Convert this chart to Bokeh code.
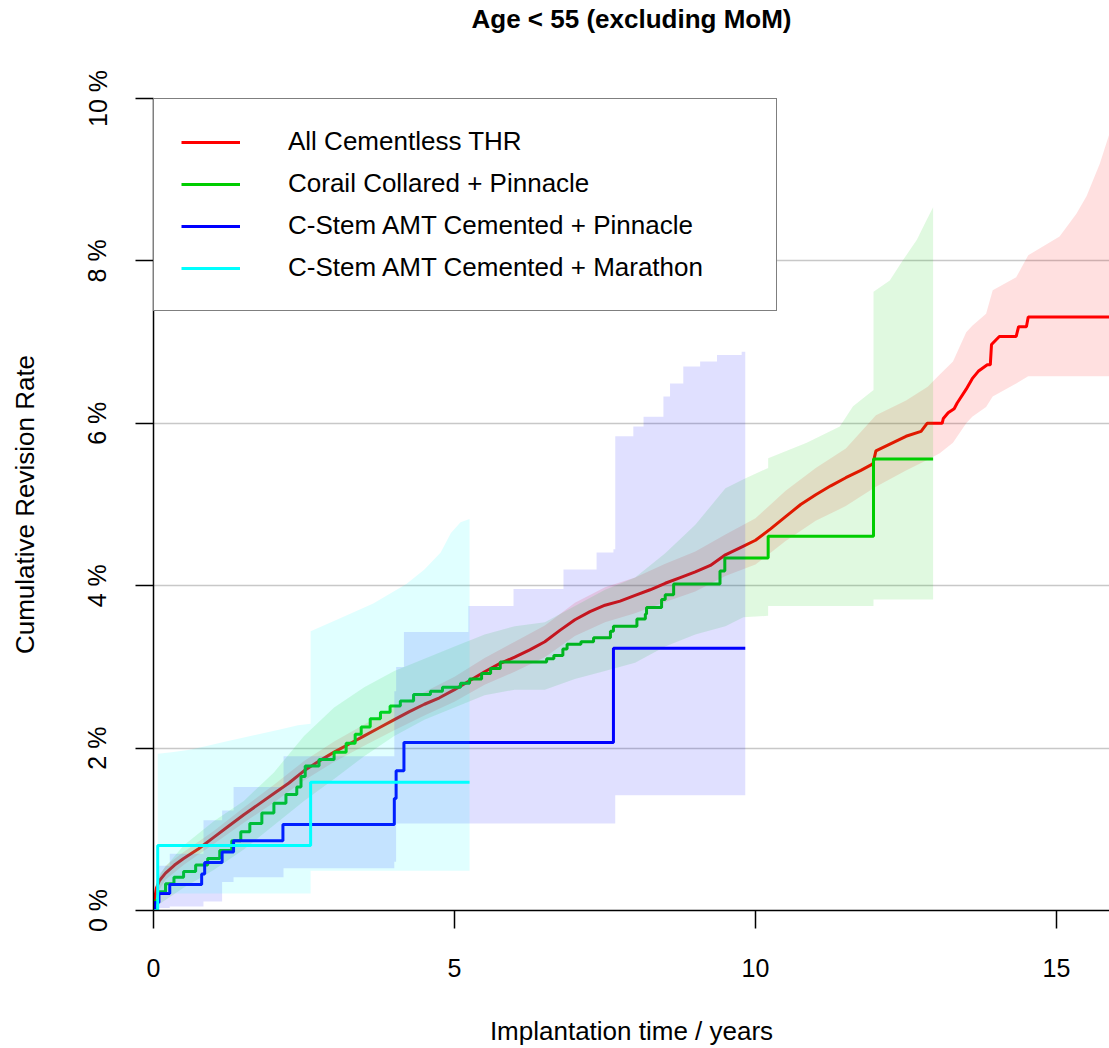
from bokeh.plotting import figure
from bokeh.models import Range1d, FixedTicker, Legend, LegendItem, Title
from bokeh.embed import file_html
from bokeh.resources import INLINE

title_text = "Age < 55 (excluding MoM)"
x_label = "Implantation time / years"
y_label = "Cumulative Revision Rate"
x_ticks = [0, 5, 10, 15]
y_ticks = [0, 2, 4, 6, 8, 10]
y_tick_labels = ["0 %", "2 %", "4 %", "6 %", "8 %", "10 %"]
series_names = ["All Cementless THR", "Corail Collared + Pinnacle",
                "C-Stem AMT Cemented + Pinnacle", "C-Stem AMT Cemented + Marathon"]
series_colors = ["#FF0000", "#00CD00", "#0000FF", "#00FFFF"]

# All Cementless THR (cumulative revision %, polyline vertices; steps in the tail)
red_t = [0, 0.02, 0.05, 0.1, 0.2, 0.35, 0.5, 0.75, 1.0, 1.25, 1.5, 1.75, 2.0, 2.25, 2.5, 2.75,
         3.0, 3.25, 3.5, 3.75, 4.0, 4.25, 4.5, 4.75, 5.0, 5.25, 5.5, 5.75, 6.0, 6.25, 6.5, 6.75,
         7.0, 7.25, 7.5, 7.75, 8.0, 8.25, 8.5, 8.75, 9.0, 9.25, 9.5, 9.75, 10.0, 10.25, 10.5,
         10.75, 11.0, 11.25, 11.5, 11.75, 11.95, 12.0, 12.25, 12.5, 12.75, 12.85, 13.1, 13.12,
         13.2, 13.3, 13.35, 13.5, 13.6, 13.7, 13.85, 13.9, 13.92, 14.05, 14.33, 14.37, 14.5,
         14.53, 15.88]
red_v = [0, 0.15, 0.28, 0.37, 0.46, 0.56, 0.64, 0.76, 0.9, 1.04, 1.18, 1.31, 1.44, 1.57, 1.72, 1.84,
         1.95, 2.05, 2.15, 2.25, 2.35, 2.45, 2.54, 2.62, 2.72, 2.83, 2.94, 3.04, 3.12, 3.21, 3.31, 3.45,
         3.58, 3.68, 3.76, 3.81, 3.88, 3.95, 4.03, 4.10, 4.17, 4.25, 4.38, 4.47, 4.56, 4.70, 4.85,
         5.00, 5.12, 5.23, 5.33, 5.42, 5.50, 5.66, 5.75, 5.84, 5.90, 6.00, 6.00, 6.06,
         6.13, 6.18, 6.25, 6.42, 6.55, 6.64, 6.72, 6.72, 6.97, 7.07, 7.07, 7.19, 7.19,
         7.31, 7.31]
red_band_t = [0, 0.05, 0.2, 0.5, 1.0, 1.5, 2.0, 2.5, 3.0, 3.5, 4.0, 4.5, 5.0, 5.5, 6.0, 6.5, 7.0,
              7.5, 8.0, 8.5, 9.0, 9.5, 10.0, 10.5, 11.0, 11.5, 12.0, 12.5, 12.86, 13.06, 13.28,
              13.5, 13.6, 13.83, 13.94, 14.33, 14.53, 15.05, 15.33, 15.5, 15.72, 15.88]
red_lo = [0, 0.2, 0.38, 0.56, 0.82, 1.08, 1.33, 1.6, 1.83, 2.03, 2.22, 2.4, 2.57, 2.78, 2.94, 3.12,
          3.38, 3.55, 3.66, 3.8, 3.93, 4.12, 4.26, 4.55, 4.8, 4.98, 5.22, 5.42, 5.55, 5.63, 5.76,
          6.0, 6.08, 6.2, 6.33, 6.49, 6.58, 6.58, 6.58, 6.58, 6.58, 6.58]
red_hi = [0, 0.36, 0.55, 0.72, 0.98, 1.27, 1.55, 1.84, 2.08, 2.29, 2.5, 2.69, 2.88, 3.11, 3.31, 3.51,
          3.79, 3.98, 4.1, 4.27, 4.42, 4.63, 4.83, 5.17, 5.45, 5.69, 6.1, 6.28, 6.45, 6.6, 6.76,
          7.12, 7.2, 7.35, 7.64, 7.8, 8.07, 8.3, 8.58, 8.8, 9.2, 9.57]

# Corail Collared + Pinnacle (step after)
green_t = [0, 0.03, 0.08, 0.2, 0.34, 0.5, 0.7, 0.9, 1.1, 1.3, 1.45, 1.6, 1.8, 2.0, 2.2, 2.38, 2.45,
           2.52, 2.75, 3.0, 3.2, 3.35, 3.45, 3.6, 3.77, 3.93, 4.1, 4.32, 4.6, 4.8, 5.1, 5.25, 5.45,
           5.6, 5.76, 6.53, 6.65, 6.8, 6.87, 7.1, 7.31, 7.59, 7.64, 8.03, 8.17, 8.19, 8.44, 8.5,
           8.64, 9.41, 9.49, 10.21, 11.96, 12.95]
green_v = [0, 0.12, 0.23, 0.33, 0.41, 0.48, 0.56, 0.64, 0.74, 0.86, 0.97, 1.07, 1.2, 1.32, 1.43, 1.52,
           1.65, 1.78, 1.86, 1.95, 2.06, 2.17, 2.26, 2.36, 2.44, 2.52, 2.58, 2.66, 2.7, 2.75, 2.8, 2.85,
           2.92, 2.98, 3.06, 3.1, 3.14, 3.22, 3.28, 3.31, 3.36, 3.44, 3.5, 3.59, 3.65, 3.73, 3.83,
           3.89, 4.02, 4.18, 4.34, 4.61, 5.56, 5.56]
# band vertices (repeated times mark vertical jumps)
green_band_t = [0, 0.1, 0.5, 1.0, 1.5, 2.0, 2.5, 3.0, 3.5, 4.0, 4.5, 5.0, 5.5, 6.0, 6.5, 7.0, 7.5,
                8.0, 8.5, 9.0, 9.5, 9.8, 10.21, 10.21, 10.85, 11.4, 11.62, 11.96, 11.96, 12.23,
                12.45, 12.68, 12.84, 12.95]
green_lo = [0, 0.08, 0.28, 0.5, 0.75, 1.05, 1.35, 1.62, 1.9, 2.15, 2.35, 2.5, 2.65, 2.72, 2.72, 2.85,
            2.95, 3.05, 3.25, 3.4, 3.5, 3.61, 3.63, 3.75, 3.75, 3.75, 3.75, 3.75, 3.83, 3.83, 3.83,
            3.83, 3.83, 3.83]
green_hi = [0, 0.45, 0.8, 1.1, 1.35, 1.7, 2.15, 2.5, 2.75, 2.95, 3.1, 3.25, 3.4, 3.5, 3.55, 3.75,
            3.95, 4.1, 4.4, 4.75, 5.2, 5.31, 5.45, 5.57, 5.76, 5.96, 6.21, 6.41, 7.62, 7.76, 8.01,
            8.26, 8.5, 8.66]

# C-Stem AMT Cemented + Pinnacle (step after)
blue_t = [0, 0.02, 0.09, 0.27, 0.80, 0.85, 1.14, 1.33, 2.15, 4.0, 4.03, 4.16, 7.64, 9.83]
blue_v = [0, 0.1, 0.21, 0.32, 0.45, 0.59, 0.72, 0.86, 1.06, 1.38, 1.72, 2.07, 3.23, 3.23]
blue_band_t = [0, 0.09, 0.27, 0.83, 1.14, 1.33, 2.16, 4.0, 4.03, 4.16, 5.23, 5.98, 6.81, 7.36,
               7.64, 7.67, 7.97, 8.14, 8.47, 8.58, 8.8, 9.08, 9.36, 9.77, 9.83]
blue_lo = [0, 0.03, 0.05, 0.11, 0.35, 0.41, 0.52, 0.6, 1.07, 1.07, 1.07, 1.07, 1.07, 1.07,
           1.07, 1.42, 1.42, 1.42, 1.42, 1.42, 1.42, 1.42, 1.42, 1.42, 1.42]
blue_hi = [0, 0.55, 0.7, 1.11, 1.23, 1.52, 1.9, 2.7, 3.0, 3.43, 3.75, 3.96, 4.2, 4.41,
           4.45, 5.84, 5.96, 6.08, 6.33, 6.49, 6.7, 6.76, 6.84, 6.88, 6.88]

# C-Stem AMT Cemented + Marathon (step after)
cyan_t = [0, 0.07, 2.61, 5.25]
cyan_v = [0, 0.8, 1.58, 1.58]
cyan_band_t = [0, 0.07, 0.07, 0.3, 0.6, 0.9, 1.2, 1.5, 1.8, 2.1, 2.4, 2.61, 2.61, 3.1, 3.65, 4.2,
               4.5, 4.77, 4.94, 5.1, 5.25]
cyan_lo = [0, 0, 0.21, 0.21, 0.21, 0.21, 0.21, 0.21, 0.21, 0.21, 0.21, 0.21, 0.49, 0.49, 0.49, 0.49,
           0.49, 0.49, 0.49, 0.49, 0.49]
cyan_hi = [0, 0, 1.93, 1.95, 1.98, 2.03, 2.08, 2.13, 2.18, 2.23, 2.28, 2.3, 3.44, 3.6, 3.78, 4.02,
           4.2, 4.41, 4.65, 4.78, 4.82]

FONT = "Liberation Sans"

p = figure(width=1109, height=1048, output_backend="svg", toolbar_location=None,
           x_range=Range1d(0, 15.88), y_range=Range1d(0, 10),
           min_border_left=153, min_border_right=0, min_border_top=98, min_border_bottom=136)
p.outline_line_color = None
p.background_fill_color = "white"

p.title.text = title_text
p.title.align = "center"
p.title.text_font = FONT
p.title.text_font_size = "26px"
p.title.text_font_style = "bold"
p.title.text_color = "black"
p.title.standoff = 0
# empty spacer panel between the frame and the title
p.add_layout(Title(text=" ", text_font_size="1px", standoff=62), "above")

p.xgrid.visible = False
p.ygrid.ticker = FixedTicker(ticks=[2, 4, 6, 8, 10])
p.ygrid.grid_line_color = "#c8c8c8"
p.ygrid.grid_line_width = 1.5

for ax in (p.xaxis[0], p.yaxis[0]):
    ax.axis_line_color = "black"
    ax.axis_line_width = 1.5
    ax.major_tick_line_color = "black"
    ax.major_tick_line_width = 1.5
    ax.major_tick_out = 18
    ax.major_tick_in = 0
    ax.minor_tick_line_color = None
    ax.major_label_text_font = FONT
    ax.major_label_text_font_size = "25px"
    ax.major_label_text_color = "black"
    ax.axis_label_text_font = FONT
    ax.axis_label_text_font_size = "26px"
    ax.axis_label_text_font_style = "normal"
    ax.axis_label_text_color = "black"

p.xaxis.ticker = FixedTicker(ticks=x_ticks)
p.xaxis.axis_label = x_label
p.xaxis.major_label_standoff = 30
p.xaxis.axis_label_standoff = 36

p.yaxis.ticker = FixedTicker(ticks=y_ticks)
p.yaxis.major_label_overrides = {t: s for t, s in zip(y_ticks, y_tick_labels)}
p.yaxis.major_label_orientation = "vertical"
p.yaxis.axis_label = y_label
p.yaxis.major_label_standoff = 24
p.yaxis.axis_label_standoff = 41

ALPHA = 0.12
# All Cementless THR
r_red = p.line(red_t, red_v, line_color=series_colors[0], line_width=3)
p.varea(x=red_band_t, y1=red_lo, y2=red_hi, fill_color=series_colors[0], fill_alpha=ALPHA)
# Corail Collared + Pinnacle
r_green = p.step(green_t, green_v, mode="after", line_color=series_colors[1], line_width=3)
p.varea(x=green_band_t, y1=green_lo, y2=green_hi, fill_color=series_colors[1], fill_alpha=ALPHA)
# C-Stem + Pinnacle
r_blue = p.step(blue_t, blue_v, mode="after", line_color=series_colors[2], line_width=3)
p.varea_step(x=blue_band_t, y1=blue_lo, y2=blue_hi, step_mode="after",
             fill_color=series_colors[2], fill_alpha=ALPHA)
# C-Stem + Marathon
r_cyan = p.step(cyan_t, cyan_v, mode="after", line_color=series_colors[3], line_width=3)
p.varea(x=cyan_band_t, y1=cyan_lo, y2=cyan_hi, fill_color=series_colors[3], fill_alpha=ALPHA)

line_renderers = [r_red, r_green, r_blue, r_cyan]
legend = Legend(items=[LegendItem(label=n, renderers=[r]) for n, r in zip(series_names, line_renderers)],
                location="top_left")
legend.border_line_color = "black"
legend.border_line_width = 1.5
legend.background_fill_color = "white"
legend.background_fill_alpha = 1.0
legend.padding = 27
legend.margin = 0
legend.spacing = 11
legend.glyph_width = 59
legend.glyph_height = 30
legend.label_height = 30
legend.label_width = 461
legend.label_standoff = 48
legend.label_text_font = FONT
legend.label_text_font_size = "26px"
legend.label_text_color = "black"
p.add_layout(legend)

open("out.html", "w").write(file_html(p, INLINE))
